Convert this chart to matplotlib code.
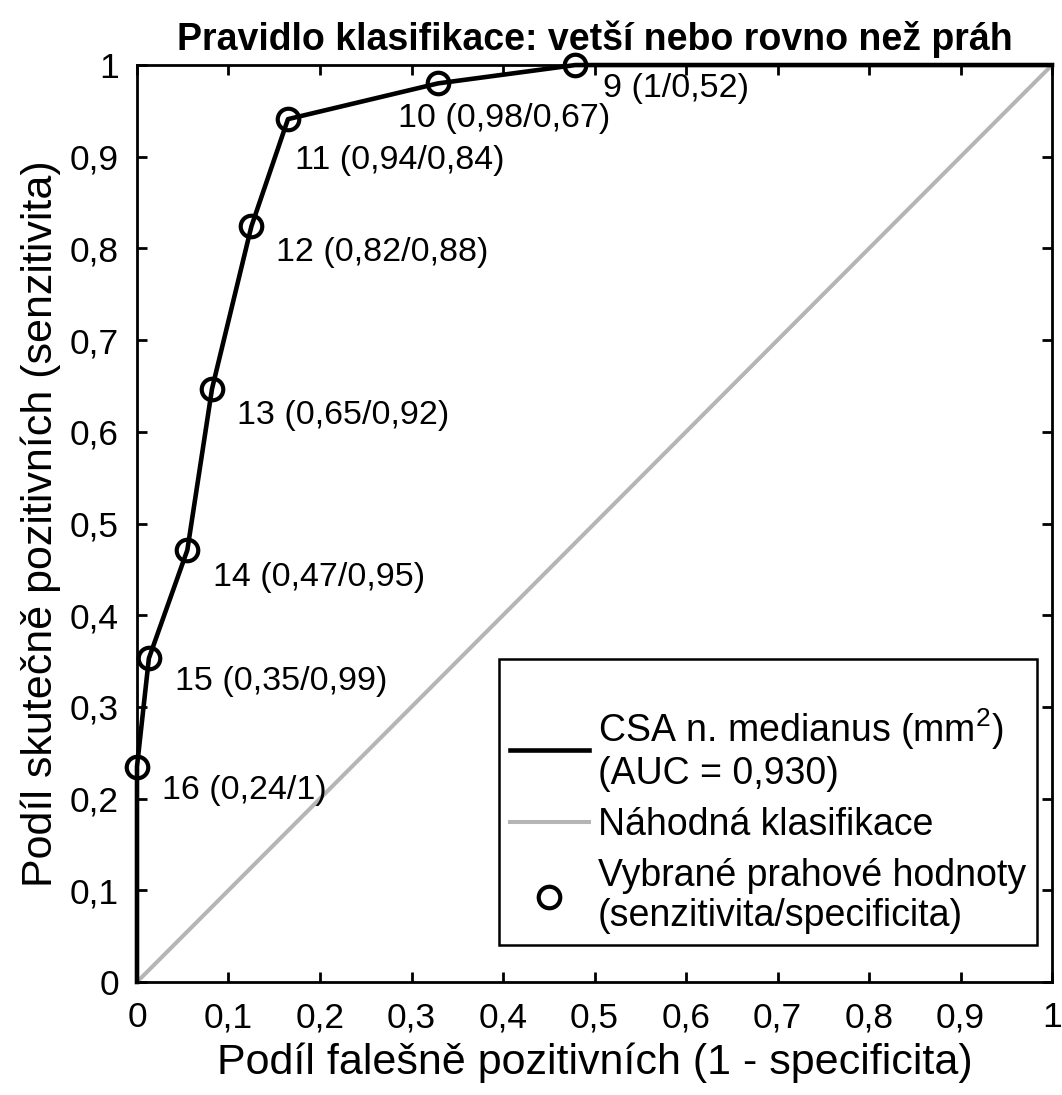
import numpy as np
import matplotlib
matplotlib.use('Agg')
from matplotlib import pyplot as plt

plt.rcParams['font.family'] = ['Liberation Sans', 'DejaVu Sans']
plt.rcParams['mathtext.fontset'] = 'custom'
plt.rcParams['mathtext.rm'] = 'Liberation Sans'
plt.rcParams['mathtext.it'] = 'Liberation Sans:italic'

# ROC curve points (1 - specificity, sensitivity)
fpr = [0.0, 0.0, 0.013, 0.055, 0.082, 0.125, 0.165, 0.329, 0.479, 1.0]
tpr = [0.0, 0.235, 0.353, 0.471, 0.647, 0.824, 0.941, 0.980, 1.0, 1.0]

# selected thresholds (indices 1..8 of the curve)
thresholds = [16, 15, 14, 13, 12, 11, 10, 9]
labels = ['16 (0,24/1)', '15 (0,35/0,99)', '14 (0,47/0,95)', '13 (0,65/0,92)',
          '12 (0,82/0,88)', '11 (0,94/0,84)', '10 (0,98/0,67)', '9 (1/0,52)']
# label offsets in points from the marker
offsets = [(18, -17), (18.5, -17), (18.5, -19.5), (18, -19.5),
           (17.5, -18.5), (5, -30), (-29, -25), (20, -17)]

ticks = np.arange(0, 1.01, 0.1)
tick_labels = ['0'] + ['%.1f' % t for t in ticks[1:-1]] + ['1']
tick_labels = [s.replace('.', ',') for s in tick_labels]

fig = plt.figure(figsize=(10.62, 10.95), dpi=100)
ax = fig.add_axes([0.129, 0.1032, 0.8616, 0.8374])

ax.plot([0, 1], [0, 1], color='#b5b5b5', lw=2.9, label=u'Náhodná klasifikace', zorder=2)
ax.plot(fpr, tpr, color='black', lw=3.3, clip_on=False, zorder=3,
        label='CSA n. medianus (mm$^2$)\n(AUC = 0,930)')
ax.plot(fpr[1:9], tpr[1:9], 'o', ms=15.5, mfc='none', mec='black', mew=3,
        clip_on=False, zorder=4,
        label=u'Vybrané prahové hodnoty\n(senzitivita/specificita)')

for x, y, s, off in zip(fpr[1:9], tpr[1:9], labels, offsets):
    ax.annotate(s, (x, y), xytext=off, textcoords='offset points',
                ha='left', va='center', fontsize=24.5)

ax.set_xlim(0, 1)
ax.set_ylim(0, 1)
ax.set_xticks(ticks)
ax.set_yticks(ticks)
ax.set_xticklabels(tick_labels)
ax.set_yticklabels(tick_labels)
ax.tick_params(direction='in', length=7, width=2, labelsize=25.5,
               top=True, right=True)
ax.tick_params(axis='x', pad=14)
ax.tick_params(axis='y', pad=13)
for sp in ax.spines.values():
    sp.set_linewidth(2)

ax.set_xlabel(u'Podíl falešně pozitivních (1 - specificita)', fontsize=31, labelpad=6)
ax.set_ylabel(u'Podíl skutečně pozitivních (senzitivita)', fontsize=31, labelpad=6)
ax.set_title(u'Pravidlo klasifikace: vetší nebo rovno než práh',
             fontsize=27, fontweight='bold', pad=11)

h, l = ax.get_legend_handles_labels()
order = [1, 0, 2]
# blank title gives the extra space above the first entry
leg = ax.legend([h[i] for i in order], [l[i] for i in order],
                loc='lower right', bbox_to_anchor=(0.984, 0.040),
                borderaxespad=0, fontsize=27, fancybox=False, framealpha=1,
                edgecolor='black', handlelength=2.1, handletextpad=0.25,
                borderpad=0.3, labelspacing=0.4,
                title=' ', title_fontsize=16)
leg.get_frame().set_linewidth(1.8)
for t in leg.get_texts():
    t.set_linespacing(1.15)

fig.savefig('out.png', dpi=100)
